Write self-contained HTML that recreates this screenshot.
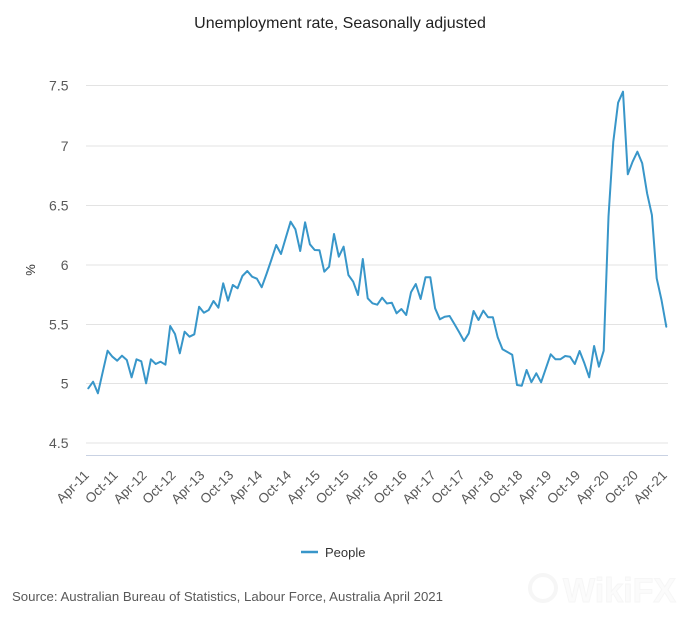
<!DOCTYPE html>
<html>
<head>
<meta charset="utf-8">
<style>
html,body{margin:0;padding:0;background:#fff;}
svg{display:block;font-family:"Liberation Sans",sans-serif;}
</style>
</head>
<body>
<svg width="680" height="622" viewBox="0 0 680 622" xmlns="http://www.w3.org/2000/svg">
<rect x="0" y="0" width="680" height="622" fill="#fff"/>
<text x="340" y="28" text-anchor="middle" font-size="16" fill="#222">Unemployment rate, Seasonally adjusted</text>

<g stroke="#e3e3e3" stroke-width="1">
<line x1="86" y1="85.5" x2="668" y2="85.5"/>
<line x1="86" y1="146" x2="668" y2="146"/>
<line x1="86" y1="205.5" x2="668" y2="205.5"/>
<line x1="86" y1="265" x2="668" y2="265"/>
<line x1="86" y1="324.5" x2="668" y2="324.5"/>
<line x1="86" y1="383.5" x2="668" y2="383.5"/>
<line x1="86" y1="443" x2="668" y2="443"/>
</g>
<line x1="86" y1="455.5" x2="668" y2="455.5" stroke="#c9d2e3" stroke-width="1"/>

<g font-size="14" fill="#595959" text-anchor="end">
<text x="68.5" y="90.5">7.5</text>
<text x="68.5" y="151">7</text>
<text x="68.5" y="210.5">6.5</text>
<text x="68.5" y="270">6</text>
<text x="68.5" y="329.5">5.5</text>
<text x="68.5" y="388.5">5</text>
<text x="68.5" y="448">4.5</text>
</g>
<text x="0" y="0" font-size="13" fill="#333" text-anchor="middle" transform="translate(35,270) rotate(-90)">%</text>

<g font-size="13.5" fill="#595959" text-anchor="end">
<text transform="translate(89.8,476) rotate(-45)">Apr-11</text>
<text transform="translate(118.7,476) rotate(-45)">Oct-11</text>
<text transform="translate(147.6,476) rotate(-45)">Apr-12</text>
<text transform="translate(176.5,476) rotate(-45)">Oct-12</text>
<text transform="translate(205.4,476) rotate(-45)">Apr-13</text>
<text transform="translate(234.3,476) rotate(-45)">Oct-13</text>
<text transform="translate(263.2,476) rotate(-45)">Apr-14</text>
<text transform="translate(292.1,476) rotate(-45)">Oct-14</text>
<text transform="translate(321.0,476) rotate(-45)">Apr-15</text>
<text transform="translate(349.9,476) rotate(-45)">Oct-15</text>
<text transform="translate(378.8,476) rotate(-45)">Apr-16</text>
<text transform="translate(407.7,476) rotate(-45)">Oct-16</text>
<text transform="translate(436.6,476) rotate(-45)">Apr-17</text>
<text transform="translate(465.5,476) rotate(-45)">Oct-17</text>
<text transform="translate(494.4,476) rotate(-45)">Apr-18</text>
<text transform="translate(523.3,476) rotate(-45)">Oct-18</text>
<text transform="translate(552.2,476) rotate(-45)">Apr-19</text>
<text transform="translate(581.1,476) rotate(-45)">Oct-19</text>
<text transform="translate(610.0,476) rotate(-45)">Apr-20</text>
<text transform="translate(638.9,476) rotate(-45)">Oct-20</text>
<text transform="translate(667.8,476) rotate(-45)">Apr-21</text>
</g>

<polyline fill="none" stroke="#3896c9" stroke-width="2" stroke-linejoin="round" stroke-linecap="round" points="
88.3,388.3 93.1,381.7 97.9,393.3 102.8,371.7 107.6,350.7 112.4,356.7 117.2,360.7 122.0,355.7 126.8,360 131.6,377.3
136.5,359.3 141.3,361.3 146.1,383.3 150.9,359.3 155.7,364 160.5,361.7 165.4,364.7 170.2,326 175.0,334 179.8,353.3
184.6,331.7 189.5,336.7 194.3,334.3 199.1,306.7 203.9,312.7 208.7,310 213.5,301 218.4,307.7 223.2,283.3 228.0,300.7
232.8,285 237.6,288.3 242.4,276 247.3,271 252.1,276.7 256.9,278.7 261.7,287.3 266.5,274 271.3,260 276.2,245
281.0,254 285.8,237.7 290.6,221.7 295.4,229.3 300.2,251 305.1,222.3 309.9,244.3 314.7,250 319.5,250.3 324.3,271.7
329.1,266.7 334.0,234 338.8,256.7 343.6,246.7 348.4,275 353.2,281.7 358.0,295 362.8,259 367.7,298.3 372.5,303.3
377.3,304.7 382.1,297.7 386.9,303.5 391.8,302.7 396.6,313.3 401.4,309 406.2,315 411.0,292.3 415.8,284 420.6,299
425.5,277.3 430.3,277.3 435.1,308.3 439.9,319.3 444.7,316.7 449.6,316 454.4,324 459.2,332.3 464.0,341 468.8,333.3
473.6,311 478.5,320 483.3,310.7 488.1,317.3 492.9,317.3 497.7,337.3 502.5,349.3 507.4,352 512.2,354.7 517.0,385
521.8,385.7 526.6,370 531.4,382.2 536.3,373.3 541.1,382.3 545.9,368.3 550.7,354.3 555.5,359.3 560.3,359.3 565.2,356
570.0,356.7 574.8,364 579.6,351 584.4,363.3 589.2,377.3 594.1,346 598.9,366.7 603.7,350.7 608.5,216.7 613.3,141.7
618.1,102.7 623.0,91.7 627.8,174.3 632.6,161.7 637.4,151.7 642.2,163.3 647.1,193.3 651.9,215 656.7,278.3 661.5,300
666.3,326.7"/>

<line x1="301" y1="552" x2="318" y2="552" stroke="#3896c9" stroke-width="2.5"/>
<text x="325" y="557" font-size="13" fill="#333">People</text>

<text x="12" y="601" font-size="13" fill="#595959" textLength="431" lengthAdjust="spacingAndGlyphs">Source: Australian Bureau of Statistics, Labour Force, Australia April 2021</text>

<g opacity="0.35">
<circle cx="543" cy="588" r="13" fill="none" stroke="#e6e6e6" stroke-width="4"/>
<text x="563" y="602" font-size="34" font-weight="bold" fill="#f6f6f6" stroke="#e6e6e6" stroke-width="1">WikiFX</text>
</g>
</svg>
</body>
</html>
